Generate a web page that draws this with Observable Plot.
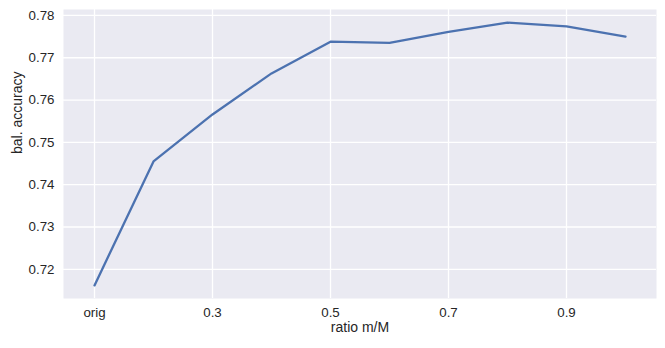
<!DOCTYPE html>
<html>
<head>
<meta charset="utf-8">
<script src="https://cdn.jsdelivr.net/npm/d3@7"></script>
<script src="https://cdn.jsdelivr.net/npm/@observablehq/plot@0.6"></script>
<style>
  body { margin: 0; background: #fff; }
  svg { font-family: "Liberation Sans", Arial, sans-serif; }
</style>
</head>
<body>
<div id="chart"></div>
<script>
const categories = ["orig", "0.2", "0.3", "0.4", "0.5", "0.6", "0.7", "0.8", "0.9", "1.0"];
const accuracy = [0.7162, 0.7455, 0.7566, 0.7663, 0.7738, 0.7735, 0.7761, 0.7783, 0.7774, 0.7750];
const xTicks = ["orig", "0.3", "0.5", "0.7", "0.9"];
const yTicks = [0.72, 0.73, 0.74, 0.75, 0.76, 0.77, 0.78];

const data = categories.map((c, i) => ({x: c, y: accuracy[i]}));

const chart = Plot.plot({
  width: 665,
  height: 348,
  marginLeft: 63,
  marginRight: 9,
  marginTop: 9,
  marginBottom: 50,
  style: {fontSize: "13.3px", color: "#262626", fontFamily: "'Liberation Sans', Arial, sans-serif", background: "#fff"},
  x: {type: "point", domain: categories, padding: 0.45, label: null},
  y: {domain: [0.7131, 0.7814], label: null},
  marks: [
    Plot.frame({fill: "#eaeaf2", stroke: null}),
    Plot.gridX(xTicks, {stroke: "#fff", strokeOpacity: 1, strokeWidth: 1.3}),
    Plot.gridY(yTicks, {stroke: "#fff", strokeOpacity: 1, strokeWidth: 1.3}),
    Plot.axisX(xTicks, {tickSize: 0, tickPadding: 9, fill: "#262626", fontSize: 13.3}),
    Plot.axisY(yTicks, {tickSize: 0, tickPadding: 9, fill: "#262626", fontSize: 13.3, tickFormat: d3.format(".2f")}),
    Plot.text(["ratio m/M"], {frameAnchor: "bottom", dy: 33, fill: "#262626", fontSize: "14px"}),
    Plot.text(["bal. accuracy"], {frameAnchor: "left", dx: -46, rotate: -90, fill: "#262626", fontSize: "14px"}),
    Plot.line(data, {x: "x", y: "y", stroke: "#4c72b0", strokeWidth: 2.3})
  ]
});
document.getElementById("chart").appendChild(chart);
</script>
</body>
</html>
